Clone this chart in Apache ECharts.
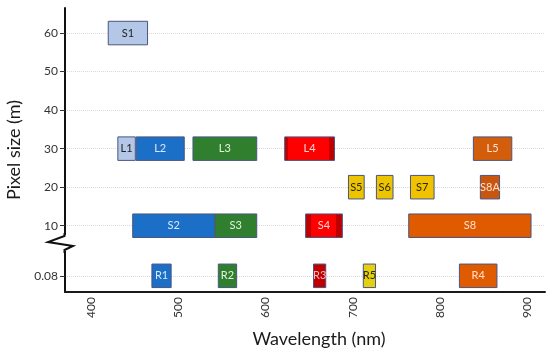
<!DOCTYPE html>
<html><head><meta charset="utf-8">
<script src="https://cdn.jsdelivr.net/npm/echarts@6/dist/echarts.min.js"></script>
<style>html,body{margin:0;padding:0;background:#fff}#c{width:550px;height:357px}</style>
</head><body><div id="c"></div>
<script>
// ---- data ----
const bandNames = ['S1','L1','L2','L3','L4','L5','S5','S6','S7','S8A','S2','S3','S4','S8','R1','R2','R3','R5','R4'];
const bandStart = [420,431,452,517,622,838,695,727,766,846,448,542,646,764,470,546,655,712,822];
const bandEnd   = [465,451,507,590,679,882,713,746,793,868,542,590,688,904,492,567,669,726,865];
const pixelSize = [60,30,30,30,30,30,20,20,20,20,10,10,10,10,0.08,0.08,0.08,0.08,0.08];
const yTickValues = [60,50,40,30,20,10,0.08];
const xTickValues = [400,500,600,700,800,900];

// broken axis: 0.08 row drawn below the break
const BREAK_POS = -3;
const rowPos = v => (v < 1 ? BREAK_POS : v);
const rowLabel = p => (p === BREAK_POS ? '0.08' : String(p));

// ---- styles ----
const styleOf = {
  S1:{fill:'#b4c7e7',txt:'#1f1f1f'}, L1:{fill:'#b4c7e7',txt:'#1f1f1f'},
  L2:{fill:'#1b6fc6',txt:'#dbe8ff'}, S2:{fill:'#1b6fc6',txt:'#dbe8ff'}, R1:{fill:'#1b6fc6',txt:'#dbe8ff'},
  L3:{fill:'#2f7f2f',txt:'#e4f2e0'}, S3:{fill:'#2f7f2f',txt:'#e4f2e0'}, R2:{fill:'#2f7f2f',txt:'#e4f2e0'},
  L4:{fill:'#ff0000',edge:'#c00000',l:0.07,r:0.89,txt:'#ffd0d0'},
  S4:{fill:'#ff0000',edge:'#c00000',l:0.15,r:0.83,txt:'#ffd0d0'},
  R3:{fill:'#c00000',txt:'#ffb8b8'},
  S5:{fill:'#ecc400',txt:'#2a2a00'}, S6:{fill:'#ecc400',txt:'#2a2a00'}, S7:{fill:'#f0c200',txt:'#2a2a00'}, R5:{fill:'#e4cf10',txt:'#2a2a00'},
  L5:{fill:'#d25e0c',txt:'#ffe0d0'}, S8:{fill:'#e05a00',txt:'#ffe0d0'}, S8A:{fill:'#c9560f',txt:'#ffe0d0'}, R4:{fill:'#e05a00',txt:'#ffe0d0'}
};

const data = bandNames.map((n,i)=>[bandStart[i], bandEnd[i], rowPos(pixelSize[i]), n]);

function fillOf(s){
  if(!s.edge) return s.fill;
  return {type:'linear',x:0,y:0,x2:1,y2:0,colorStops:[
    {offset:0,color:s.edge},{offset:s.l,color:s.edge},{offset:s.l,color:s.fill},
    {offset:s.r,color:s.fill},{offset:s.r,color:s.edge},{offset:1,color:s.edge}]};
}

const chart = echarts.init(document.getElementById('c'), null, {renderer:'canvas'});
const FONT = 'Lato, "Open Sans", sans-serif';
chart.setOption({
  animation:false,
  backgroundColor:'#fff',
  grid:{left:65,right:5,top:8,bottom:65,containLabel:false,outerBoundsMode:'none'},
  xAxis:{
    type:'value', min:370.5, max:920,
    name:'Wavelength (nm)', nameLocation:'middle', nameGap:38,
    nameTextStyle:{fontSize:18,color:'#1a1a1a',fontFamily:FONT,padding:[0,0,0,28]},
    axisLine:{show:true,onZero:false,lineStyle:{color:'#1a1a1a',width:2}},
    axisTick:{show:false,customValues:xTickValues},
    axisLabel:{rotate:90,fontSize:12,color:'#333',fontFamily:FONT,margin:5,customValues:xTickValues},
    splitLine:{show:false}
  },
  yAxis:{
    type:'value', min:-7.2, max:66.5,
    name:'Pixel size (m)', nameLocation:'middle', nameGap:38,
    nameTextStyle:{fontSize:18,color:'#1a1a1a',fontFamily:FONT},
    axisLine:{show:true,onZero:false,lineStyle:{color:'#111',width:2}},
    axisTick:{show:true,length:5,lineStyle:{color:'#333'},customValues:yTickValues.map(rowPos)},
    axisLabel:{fontSize:12,color:'#333',fontFamily:FONT,margin:7,customValues:yTickValues.map(rowPos),
      formatter:v=>rowLabel(v)},
    splitLine:{show:true,lineStyle:{color:'#d9d9d9',type:'dotted',width:1}}
  },
  graphic:[
    {type:'rect',shape:{x:60,y:235,width:10,height:16},style:{fill:'#fff'},z:100},
    {type:'polyline',shape:{points:[[64.5,233],[64.5,236],[48,242],[73,246],[64.5,250],[64.5,253]]},
     style:{stroke:'#111',lineWidth:2,fill:null},z:101}
  ],
  series:[{
    type:'custom',
    data:data,
    encode:{x:[0,1],y:2},
    renderItem:(params,api)=>{
      const name = bandNames[params.dataIndex];
      const s = styleOf[name];
      const p0 = api.coord([api.value(0), api.value(2)+3.05]);
      const p1 = api.coord([api.value(1), api.value(2)-3.05]);
      return {
        type:'rect',
        shape:{x:p0[0],y:p0[1],width:p1[0]-p0[0],height:p1[1]-p0[1]},
        style:{fill:fillOf(s),stroke:'#4a5580',lineWidth:1},
        textContent:{style:{text:name,fill:s.txt,fontSize:11,fontFamily:FONT}},
        textConfig:{position:'inside'}
      };
    }
  }]
});
</script></body></html>
